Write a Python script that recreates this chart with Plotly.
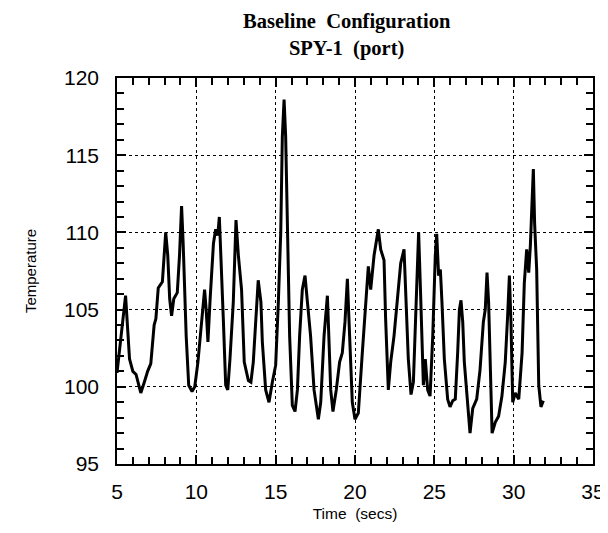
import plotly.graph_objects as go

# temperature trace (time in secs, temperature)
time_s = [5.0, 5.54, 5.79, 6.0, 6.2, 6.5, 6.72, 6.93, 7.13, 7.34, 7.45, 7.6, 7.86, 8.07, 8.2,
          8.32, 8.44, 8.58, 8.8, 8.94, 9.07, 9.17, 9.36, 9.52, 9.73, 9.9, 10.1, 10.35, 10.52,
          10.62, 10.73, 10.87, 11.08, 11.22, 11.35, 11.45, 11.56, 11.7, 11.85, 11.98, 12.12,
          12.33, 12.5, 12.65, 12.85, 13.02, 13.28, 13.44, 13.59, 13.8, 13.9, 14.07, 14.16,
          14.37, 14.58, 14.79, 15.0, 15.17, 15.32, 15.42, 15.53, 15.63, 15.74, 15.88, 16.05,
          16.22, 16.37, 16.51, 16.68, 16.85, 17.0, 17.2, 17.42, 17.69, 17.84, 18.05, 18.26,
          18.36, 18.47, 18.61, 18.82, 19.03, 19.2, 19.37, 19.52, 19.66, 19.83, 20.0, 20.21,
          20.46, 20.71, 20.84, 20.99, 21.2, 21.47, 21.62, 21.83, 21.93, 22.1, 22.25, 22.46,
          22.67, 22.88, 23.09, 23.19, 23.36, 23.53, 23.68, 23.89, 24.01, 24.12, 24.22, 24.31,
          24.43, 24.58, 24.73, 24.9, 25.06, 25.15, 25.27, 25.38, 25.48, 25.63, 25.84, 25.99,
          26.16, 26.32, 26.47, 26.58, 26.68, 26.79, 26.89, 27.1, 27.25, 27.42, 27.67, 27.88,
          28.09, 28.21, 28.32, 28.42, 28.51, 28.64, 28.84, 29.05, 29.26, 29.47, 29.62, 29.73,
          29.83, 29.94, 30.1, 30.32, 30.53, 30.67, 30.82, 30.95, 31.05, 31.16, 31.24, 31.32,
          31.45, 31.58, 31.72, 31.87]
temp = [100.9, 105.9, 101.8, 101.0, 100.8, 99.6, 100.3, 101.0, 101.5, 104.0, 104.4, 106.4,
        106.8, 110.0, 108.5, 105.7, 104.6, 105.7, 106.1, 108.5, 111.7, 109.3, 103.3, 100.1,
        99.7, 100.0, 101.6, 104.6, 106.3, 105.0, 102.9, 105.7, 109.3, 110.2, 109.8, 111.0,
        108.5, 104.4, 100.1, 99.8, 101.8, 105.5, 110.8, 108.5, 106.3, 101.6, 100.4, 100.3,
        101.6, 105.5, 106.9, 105.5, 102.9, 99.8, 99.0, 100.3, 101.4, 105.5, 110.0, 116.2,
        118.6, 116.2, 110.8, 103.3, 98.8, 98.4, 99.8, 103.3, 106.3, 107.2, 105.5, 103.3,
        99.8, 97.9, 99.0, 103.3, 105.9, 103.3, 99.8, 98.4, 99.8, 101.6, 102.2, 104.2,
        107.0, 103.3, 99.0, 97.9, 98.3, 102.2, 105.5, 107.8, 106.3, 108.5, 110.2, 108.9,
        108.2, 104.4, 99.8, 101.6, 103.3, 105.5, 108.0, 108.9, 106.5, 101.8, 99.5, 100.3,
        106.5, 110.0, 106.5, 102.4, 100.1, 101.8, 99.8, 99.4, 103.3, 108.5, 109.9, 107.2,
        107.6, 105.5, 101.8, 99.2, 98.7, 99.1, 99.2, 102.2, 105.0, 105.6, 104.2, 101.6,
        99.0, 97.0, 98.6, 99.2, 101.1, 104.2, 105.0, 107.4, 105.5, 101.1, 97.0, 97.7,
        98.1, 99.4, 101.6, 104.6, 107.2, 104.2, 99.0, 99.6, 99.2, 102.2, 106.7, 108.9,
        107.4, 109.1, 111.9, 114.1, 110.6, 107.6, 100.1, 98.7, 99.1]

title_lines = ['Baseline  Configuration', 'SPY-1  (port)']

fig = go.Figure()
fig.add_trace(go.Scatter(x=time_s, y=temp, mode='lines',
                         line=dict(color='black', width=3)))

axis_common = dict(showline=True, linecolor='black', linewidth=1.5, mirror='allticks',
                   ticks='inside', ticklen=9, tickwidth=1.5, tickcolor='black',
                   showgrid=True, gridcolor='black', griddash='dot', gridwidth=1,
                   zeroline=False, automargin=False,
                   minor=dict(dtick=1, ticks='inside', ticklen=7, tickwidth=1.5,
                              tickcolor='black', showgrid=False),
                   tickfont=dict(family='Liberation Sans, Arial', size=21, color='black'))

# the page body adds an 8px offset, so the figure is 8px smaller than the window
fig.update_layout(
    width=600, height=525,
    paper_bgcolor='white', plot_bgcolor='white',
    showlegend=False,
    margin=dict(l=109, r=15, t=70, b=69),
    xaxis=dict(range=[5, 35], tick0=5, dtick=5, ticklabelstandoff=8,
               title=dict(text='Time  (secs)', standoff=6,
                          font=dict(family='Liberation Sans, Arial', size=15.5, color='black')),
               **axis_common),
    yaxis=dict(range=[95, 120], tick0=95, dtick=5, ticklabelstandoff=12,
               title=dict(text='Temperature', standoff=24,
                          font=dict(family='Liberation Sans, Arial', size=15, color='black')),
               **axis_common),
)

# two-line bold serif title as one annotation above the plot area
fig.add_annotation(text='<b>' + '<br>'.join(title_lines) + '</b>', xref='paper', yref='paper',
                   x=0.483, y=1.181, xanchor='center', yanchor='top', showarrow=False,
                   font=dict(family='Liberation Serif, Times New Roman', size=20.5, color='black'))

fig.write_html("out.html")
